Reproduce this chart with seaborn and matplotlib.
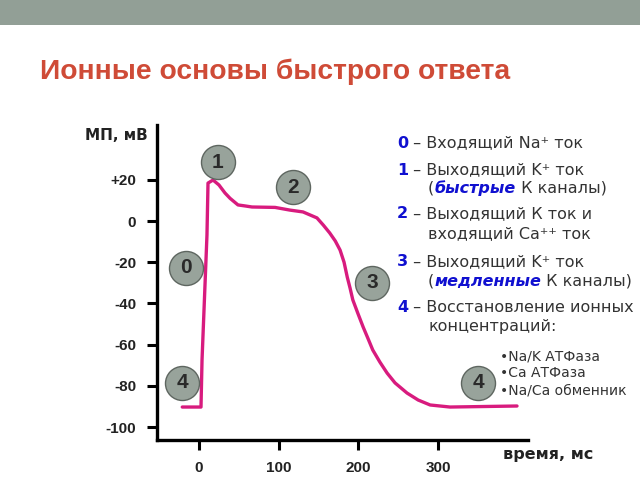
import matplotlib
matplotlib.use("Agg")
import matplotlib.pyplot as plt
import seaborn as sns
import pandas as pd
from matplotlib.patches import Rectangle

# ---- data ----
time_ms = [-21, 2.5, 3.8, 10.0, 11.3, 17.6, 25, 32.6, 39, 48.9, 58, 66.5, 95.4, 114,
           130.5, 148, 156, 164, 171, 177, 182, 186, 189.5, 193, 199.5, 206, 212, 218,
           227, 236, 246, 261, 275, 290, 315, 399]
voltage_mv = [-90.3, -90.3, -67.5, -6.8, 18.4, 19.9, 17.5, 13.6, 11, 7.8, 7.3, 6.8, 6.6, 5.3,
              4.4, 1.5, -2, -5.8, -9.7, -14.1, -20, -27.2, -32.5, -38.3, -45, -51.5, -57, -62.6,
              -68.5, -73.8, -78.6, -83.5, -86.9, -89.3, -90.3, -89.8]

yticks = [20, 0, -20, -40, -60, -80, -100]
ytick_labels = ["+20", "0", "-20", "-40", "-60", "-80", "-100"]
xticks = [0, 100, 200, 300]
xtick_labels = ["0", "100", "200", "300"]

phase_labels = ["1", "2", "0", "3", "4", "4"]
phase_t = [23.8, 118, -16.3, 217, -21.3, 350]
phase_v = [28.6, 16.5, -22.8, -30, -78.6, -78.6]

title = "Ионные основы быстрого ответа"
ylabel = "МП, мВ"
xlabel = "время, мс"

legend_lines = [
    [("0", "num"), (" – Входящий Na⁺ ток", "txt")],
    [("1", "num"), (" – Выходящий K⁺ ток", "txt")],
    [("(", "txt"), ("быстрые", "emph"), (" К каналы)", "txt")],
    [("2", "num"), (" – Выходящий К ток и", "txt")],
    [("входящий Ca⁺⁺ ток", "txt")],
    [("3", "num"), (" – Выходящий K⁺ ток", "txt")],
    [("(", "txt"), ("медленные", "emph"), (" К каналы)", "txt")],
    [("4", "num"), (" – Восстановление ионных", "txt")],
    [("концентраций:", "txt")],
]
legend_x = [397, 397, 428, 397, 428, 397, 428, 397, 428]
legend_y = [143, 170, 188, 214, 234, 262, 281, 308, 327]

bullets = ["•Na/K АТФаза", "•Ca АТФаза", "•Na/Ca обменник"]
bullet_y = [356, 373, 391]

# ---- style ----
sns.set_style("white")
plt.rcParams["font.family"] = ["DejaVu Sans"]

W, H = 640, 480
fig = plt.figure(figsize=(6.4, 4.8), dpi=100)
fig.patch.set_facecolor("white")

# top banner
fig.add_artist(Rectangle((0, 1 - 25 / H), 1, 25 / H, transform=fig.transFigure,
                         facecolor="#929F96", edgecolor="none", zorder=0))

fig.text(40 / W, 1 - 72 / H, title, ha="left", va="center", fontsize=20.3,
         fontweight="bold", family=["Liberation Sans", "DejaVu Sans"], color="#CF4B37")

ax = fig.add_axes([157 / W, 1 - 440 / H, (528 - 157) / W, (440 - 125) / H])
df = pd.DataFrame({"t": time_ms, "v": voltage_mv})
sns.lineplot(data=df, x="t", y="v", sort=False, estimator=None, ax=ax,
             color="#D81B7E", linewidth=2.4)

ax.set_xlim(-52.7, 412.8)
ax.set_ylim(-106.3, 46.6)
for s in ["top", "right"]:
    ax.spines[s].set_visible(False)
for s in ["left", "bottom"]:
    ax.spines[s].set_linewidth(2.4)
    ax.spines[s].set_color("black")
ax.set_yticks(yticks)
ax.set_yticklabels(ytick_labels)
ax.set_xticks(xticks)
ax.set_xticklabels(xtick_labels)
ax.tick_params(axis="both", which="major", direction="out", length=7, width=2.2,
               color="black", labelsize=11, pad=8, labelcolor="#222222",
               left=True, bottom=True)
for lab in ax.get_xticklabels() + ax.get_yticklabels():
    lab.set_fontweight("bold")
    lab.set_family(["Liberation Sans", "DejaVu Sans"])
ax.set_xlabel("")
ax.set_ylabel("")
ax.grid(False)

# phase circles
ax.scatter(phase_t, phase_v, s=600, color="#98A39B", edgecolor="#5E6660",
           linewidth=1.0, zorder=5, clip_on=False)
for lab, t, v in zip(phase_labels, phase_t, phase_v):
    ax.text(t, v, lab, ha="center", va="center", fontsize=15, fontweight="bold",
            color="#2a2a2a", zorder=6, family=["Liberation Sans", "DejaVu Sans"])

# axis labels
fig.text(85 / W, 1 - 135 / H, ylabel, ha="left", va="center", fontsize=11,
         fontweight="bold", color="#222222")
fig.text(503 / W, 1 - 455 / H, xlabel, ha="left", va="center", fontsize=11.5,
         fontweight="bold", color="#222222")

# legend text (sequential pieces)
fig.canvas.draw()
renderer = fig.canvas.get_renderer()
styles = {
    "num": dict(color="#1010D0", fontweight="bold"),
    "txt": dict(color="#333333"),
    "emph": dict(color="#1010D0", fontweight="bold", fontstyle="italic"),
}
for pieces, px, py in zip(legend_lines, legend_x, legend_y):
    x = px
    for txt, st in pieces:
        t = fig.text(x / W, 1 - py / H, txt, ha="left", va="center", fontsize=11.5, **styles[st])
        bb = t.get_window_extent(renderer=renderer)
        x += bb.width
for b, by in zip(bullets, bullet_y):
    fig.text(500 / W, 1 - by / H, b, ha="left", va="center", fontsize=10, color="#333333")

fig.savefig("out.png", dpi=100)
